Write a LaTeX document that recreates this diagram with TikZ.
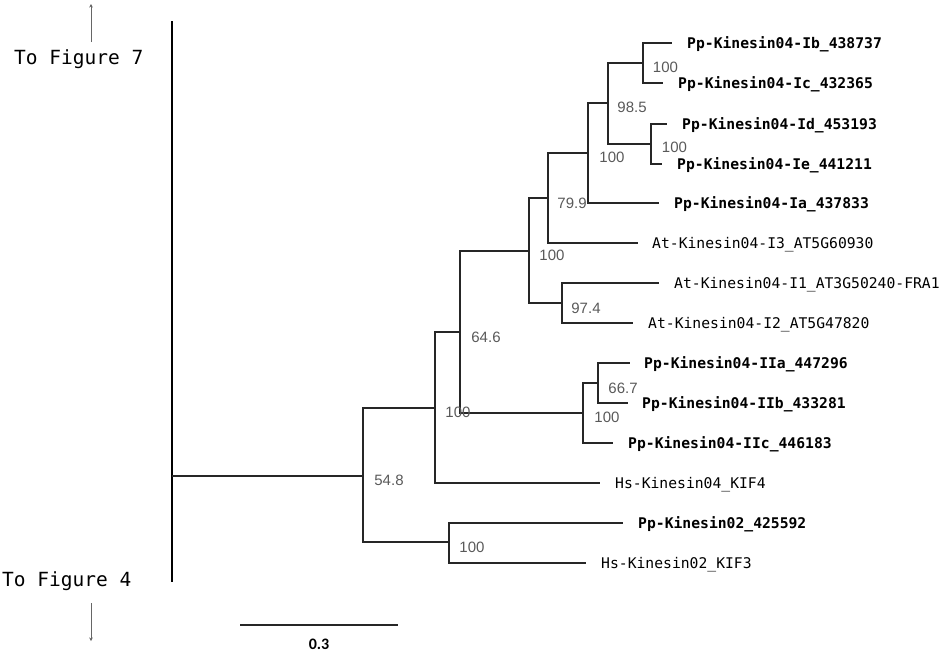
\documentclass[tikz,border=0pt]{standalone}
\usepackage{fontspec}
\setmainfont{Liberation Sans}
\newfontfamily\monof{DejaVu Sans Mono}
\newfontfamily\calib{Carlito}
\usetikzlibrary{arrows.meta}
\begin{document}
\begin{tikzpicture}[x=1pt,y=-1pt,
  br/.style={line width=1.3pt, color=black!85},
  leaf/.style={anchor=base west, inner sep=0pt, font=\monof\fontsize{14.7}{16}\selectfont},
  pleaf/.style={anchor=base west, inner sep=0pt, font=\monof\bfseries\fontsize{14.7}{16}\selectfont},
  boot/.style={anchor=base, inner sep=0pt, text=black!65, font=\fontsize{15}{17}\selectfont},
  fig/.style={anchor=base west, inner sep=0pt, font=\monof\fontsize{19.5}{22}\selectfont},
  ptr/.style={draw=black!60, line width=0.9pt, -{Stealth[length=3.5pt,width=3.5pt]}},
]
\useasboundingbox (0,0) rectangle (945,654);

% internal nodes
\coordinate (top) at (172,21);
\coordinate (bot) at (172,582);
\coordinate (R) at (172,476);
\coordinate (A) at (363,476);
\coordinate (B) at (435,408);
\coordinate (K2) at (449,542);
\coordinate (C) at (460,332);
\coordinate (D) at (529,251);
\coordinate (E) at (548,198);
\coordinate (F) at (588,153);
\coordinate (G) at (608,103);
\coordinate (H1) at (643,63);
\coordinate (H2) at (651,144);
\coordinate (At) at (562,303);
\coordinate (IIn) at (583,413);
\coordinate (IIab) at (598,383);

% leaf ends
\coordinate (lIb) at (672,43);
\coordinate (lIc) at (663,83);
\coordinate (lId) at (667,124);
\coordinate (lIe) at (662,164);
\coordinate (lIa) at (659,203);
\coordinate (lI3) at (638,243);
\coordinate (lI1) at (659,283);
\coordinate (lI2) at (633,323);
\coordinate (lIIa) at (630,363);
\coordinate (lIIb) at (628,403);
\coordinate (lIIc) at (613,443);
\coordinate (lK4) at (600,483);
\coordinate (lP2) at (623,523);
\coordinate (lK3) at (586,563);

% thick base line and root
\draw[line width=2.8pt] (top) -- (bot);
\draw[br] (R) -- (A);

% branches
\draw[br] (A) |- (B);  \draw[br] (A) |- (K2);
\draw[br] (B) |- (C);  \draw[br] (B) |- (lK4);
\draw[br] (K2) |- (lP2); \draw[br] (K2) |- (lK3);
\draw[br] (C) |- (D);  \draw[br] (C) |- (IIn);
\draw[br] (D) |- (E);  \draw[br] (D) |- (At);
\draw[br] (E) |- (F);  \draw[br] (E) |- (lI3);
\draw[br] (F) |- (G);  \draw[br] (F) |- (lIa);
\draw[br] (G) |- (H1); \draw[br] (G) |- (H2);
\draw[br] (H1) |- (lIb); \draw[br] (H1) |- (lIc);
\draw[br] (H2) |- (lId); \draw[br] (H2) |- (lIe);
\draw[br] (At) |- (lI1); \draw[br] (At) |- (lI2);
\draw[br] (IIn) |- (IIab); \draw[br] (IIn) |- (lIIc);
\draw[br] (IIab) |- (lIIa); \draw[br] (IIab) |- (lIIb);

% leaf labels
\node[pleaf] (tIb) at (687,48) {Pp-Kinesin04-Ib\_438737};
\node[pleaf] (tIc) at (678,88) {Pp-Kinesin04-Ic\_432365};
\node[pleaf] (tId) at (682,129) {Pp-Kinesin04-Id\_453193};
\node[pleaf] (tIe) at (677,169) {Pp-Kinesin04-Ie\_441211};
\node[pleaf] (tIa) at (674,208) {Pp-Kinesin04-Ia\_437833};
\node[leaf] (tI3) at (652,248) {At-Kinesin04-I3\_AT5G60930};
\node[leaf] (tI1) at (674,288) {At-Kinesin04-I1\_AT3G50240-FRA1};
\node[leaf] (tI2) at (648,328) {At-Kinesin04-I2\_AT5G47820};
\node[pleaf] (tIIa) at (644,368) {Pp-Kinesin04-IIa\_447296};
\node[pleaf] (tIIb) at (642,408) {Pp-Kinesin04-IIb\_433281};
\node[pleaf] (tIIc) at (628,448) {Pp-Kinesin04-IIc\_446183};
\node[leaf] (tK4) at (615,488) {Hs-Kinesin04\_KIF4};
\node[pleaf] (tP2) at (638,528) {Pp-Kinesin02\_425592};
\node[leaf] (tK3) at (601,568) {Hs-Kinesin02\_KIF3};

% bootstrap values
\node[boot] (b1) at (665.5,72) {100};
\node[boot] (b2) at (632,112) {98.5};
\node[boot] (b3) at (674.5,152) {100};
\node[boot] (b4) at (612,162) {100};
\node[boot] (b5) at (572,208) {79.9};
\node[boot] (b6) at (552,260) {100};
\node[boot] (b7) at (586,313) {97.4};
\node[boot] (b8) at (486,342) {64.6};
\node[boot] (b9) at (458,417) {100};
\node[boot] (b10) at (623,393) {66.7};
\node[boot] (b11) at (607,422) {100};
\node[boot] (b12) at (389,485) {54.8};
\node[boot] (b13) at (472,552) {100};

% figure pointers
\node[fig] (f7) at (14,64) {To Figure 7};
\node[fig] (f4) at (2,586) {To Figure 4};
\coordinate (a7s) at (91,42);
\coordinate (a7e) at (91,4);
\coordinate (a4s) at (91,603);
\coordinate (a4e) at (91,641);
\draw[ptr] (a7s) -- (a7e);
\draw[ptr] (a4s) -- (a4e);

% scale bar
\coordinate (sb1) at (240,625);
\coordinate (sb2) at (398,625);
\draw[br] (sb1) -- (sb2);
\node[anchor=base, inner sep=0pt, font=\calib\bfseries\fontsize{16}{18}\selectfont] (sbl) at (319,649) {0.3};
\end{tikzpicture}
\end{document}
